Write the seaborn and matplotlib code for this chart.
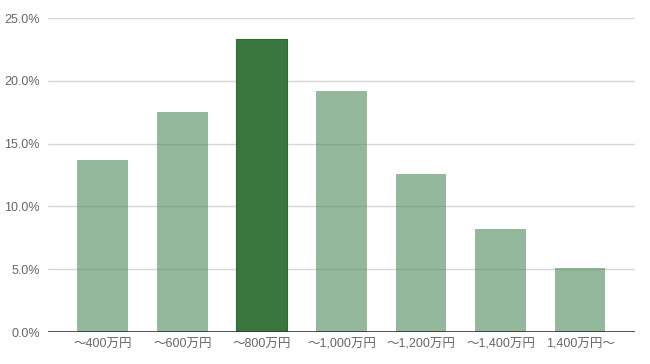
import matplotlib
matplotlib.use("Agg")
import matplotlib.pyplot as plt
import seaborn as sns
import pandas as pd
from matplotlib.ticker import FuncFormatter

categories = ["〜400万円", "〜600万円", "〜800万円", "〜1,000万円", "〜1,200万円", "〜1,400万円", "1,400万円〜"]
values = [13.7, 17.5, 23.3, 19.2, 12.6, 8.2, 5.1]
highlight = [False, False, True, False, False, False, False]

sns.set_theme(style="white")
plt.rcParams['font.family'] = ['Liberation Sans', 'Noto Sans CJK JP', 'DejaVu Sans']

df = pd.DataFrame({"cat": categories, "val": values,
                   "grp": ["hi" if h else "lo" for h in highlight]})

fig = plt.figure(figsize=(6.5, 3.64), dpi=100)
ax = fig.add_axes([0.0738, 0.0879, 0.903, 0.8626])

for y in [5, 10, 15, 20, 25]:
    ax.axhline(y, color="#d6d6d6", lw=1, zorder=0)

sns.barplot(data=df, x="cat", y="val", hue="grp", hue_order=["lo", "hi"],
            palette={"lo": "#4d8a58", "hi": "#38763e"}, saturation=1,
            width=0.64, dodge=False, legend=False, ax=ax, zorder=2,
            edgecolor="none")

for cont, lvl in zip(ax.containers, ["lo", "hi"]):
    if lvl == "lo":
        for p in cont:
            p.set_alpha(0.6)
    else:
        for p in cont:
            p.set_edgecolor("#2f6a34")
            p.set_linewidth(0.8)

ax.axhline(0, color="#333333", lw=1.2, zorder=4)

ax.set_ylim(0, 25)
ax.set_xlim(-0.69, 6.69)
ax.set_yticks([0, 5, 10, 15, 20, 25])
ax.yaxis.set_major_formatter(FuncFormatter(lambda v, p: f"{v:.1f}%"))
ax.set_xlabel("")
ax.set_ylabel("")
for s in ax.spines.values():
    s.set_visible(False)
ax.tick_params(axis="both", length=0, labelsize=9, labelcolor="#666666")
ax.tick_params(axis="y", pad=6)
ax.tick_params(axis="x", pad=5)

fig.savefig("out.png", dpi=100)
